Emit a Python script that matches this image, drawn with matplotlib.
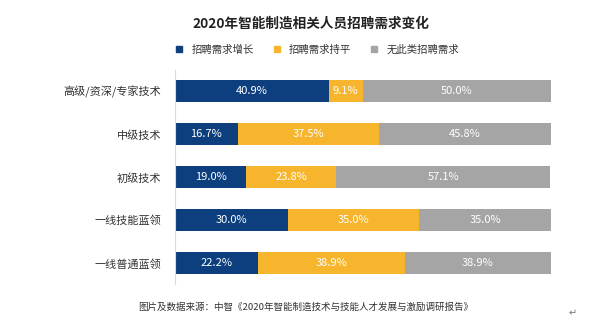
import numpy as np
import matplotlib
matplotlib.use('Agg')
import matplotlib.pyplot as plt
from matplotlib.lines import Line2D

plt.rcParams['font.family'] = ['Noto Sans CJK SC', 'DejaVu Sans']

# data
categories = ['高级/资深/专家技术', '中级技术', '初级技术', '一线技能蓝领', '一线普通蓝领']
series_names = ['招聘需求增长', '招聘需求持平', '无此类招聘需求']
grow = [40.9, 16.7, 19.0, 30.0, 22.2]
flat = [9.1, 37.5, 23.8, 35.0, 38.9]
none = [50.0, 45.8, 57.1, 35.0, 38.9]

colors = ['#0D3F7F', '#F6B52C', '#A5A5A5']

fig = plt.figure(figsize=(6, 3.3), dpi=100)
ax = fig.add_axes([0.2917, 0.138, 0.6263, 0.651])

y = np.arange(len(categories))
left = np.zeros(len(categories))
for vals, c in zip([grow, flat, none], colors):
    vals = np.array(vals)
    ax.barh(y, vals, left=left, height=0.51, color=c)
    for yi, l, v in zip(y, left, vals):
        ax.text(l + v / 2, yi, f'{v:.1f}%', ha='center', va='center',
                color='white', fontsize=8)
    left = left + vals

ax.set_xlim(0, 100)
ax.set_ylim(len(categories) - 0.5, -0.5)
ax.set_yticks(y)
ax.set_yticklabels(categories, fontsize=8, color='#333333')
ax.tick_params(axis='y', length=0, pad=10)
ax.set_xticks([])
for s in ['top', 'right', 'bottom']:
    ax.spines[s].set_visible(False)
ax.spines['left'].set_color('#D9D9D9')
ax.spines['left'].set_linewidth(0.8)

fig.text(311 / 600, 1 - 24 / 330, '2020年智能制造相关人员招聘需求变化', ha='center', va='center',
         fontsize=9.8, fontweight='bold', color='#222222')

handles = [Line2D([], [], marker='s', linestyle='', markersize=5, color=c) for c in colors]
fig.legend(handles, series_names, loc='center', bbox_to_anchor=(314 / 600, 1 - 50 / 330),
           ncol=3, frameon=False, fontsize=7.5, handletextpad=0.2, columnspacing=1.2,
           labelcolor='#333333')

fig.text(138 / 600, 1 - 307 / 330, '图片及数据来源：中智《2020年智能制造技术与技能人才发展与激励调研报告》',
         ha='left', va='center', fontsize=6.85, color='#333333')
fig.text(573 / 600, 1 - 313 / 330, '↵', ha='center', va='center', fontsize=7, color='#777777')

fig.savefig('out.png', dpi=100)
